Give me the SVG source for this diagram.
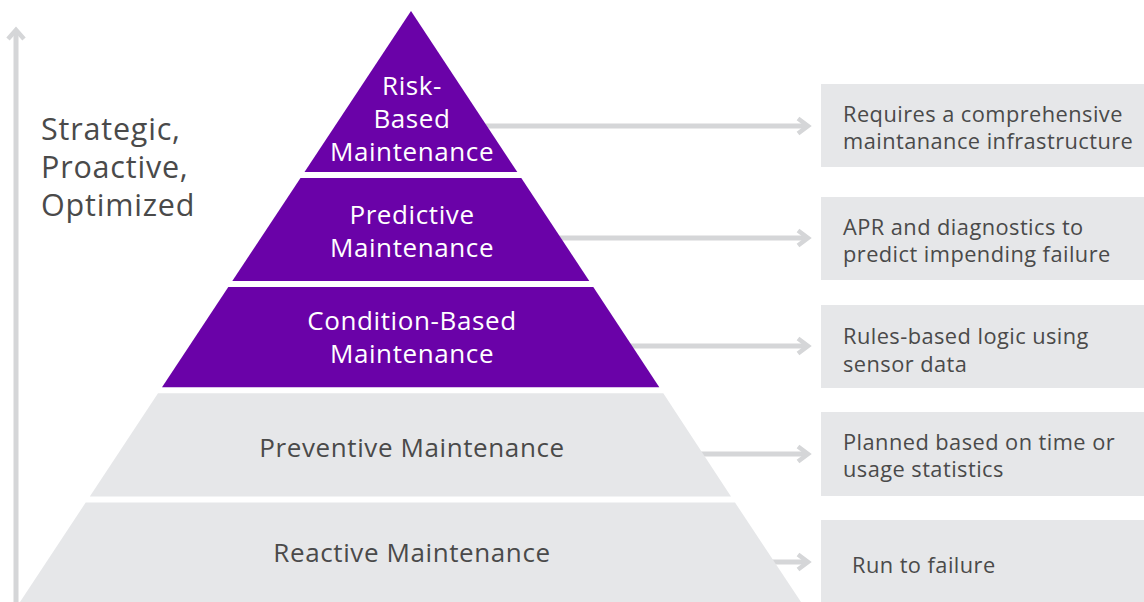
<svg xmlns="http://www.w3.org/2000/svg" width="1144" height="602" viewBox="0 0 1144 602">
  <style>
    .purple { fill: #6a02a8; }
    .grey { fill: #e6e7e9; }
    .box { fill: #e6e7e9; }
    .conn { stroke: #d5d6d8; stroke-width: 5; fill: none; }
    .head { stroke: #d5d6d8; stroke-width: 4.5; fill: none; stroke-linejoin: miter; stroke-linecap: butt; }
    .pt { font-family: "Open Sans", "Noto Sans", sans-serif; font-size: 26px; letter-spacing: 0.6px; text-anchor: middle; }
    .w { fill: #ffffff; }
    .d { fill: #4a4a4a; }
    .bt { font-family: "Open Sans", "Noto Sans", sans-serif; font-size: 21.8px; letter-spacing: 0.45px; fill: #4a4a4a; }
    .lt { font-family: "Open Sans", "Noto Sans", sans-serif; font-size: 30.5px; letter-spacing: 0.8px; fill: #4a4a4a; }
  </style>

  <g id="axis">
    <line class="conn" x1="16" y1="30" x2="16" y2="602"/>
    <polyline class="head" points="8,39 16,30 24,39"/>
    <text class="lt" x="41" y="140">Strategic,</text>
    <text class="lt" x="41" y="178">Proactive,</text>
    <text class="lt" x="41" y="216">Optimized</text>
  </g>

  <g id="connectors">
    <line class="conn" x1="420" y1="126" x2="808" y2="126"/>
    <polyline class="head" points="798,118.5 808,126 798,133.5"/>
    <line class="conn" x1="420" y1="238" x2="808" y2="238"/>
    <polyline class="head" points="798,230.5 808,238 798,245.5"/>
    <line class="conn" x1="420" y1="346" x2="808" y2="346"/>
    <polyline class="head" points="798,338.5 808,346 798,353.5"/>
    <line class="conn" x1="420" y1="454" x2="808" y2="454"/>
    <polyline class="head" points="798,446.5 808,454 798,461.5"/>
    <line class="conn" x1="420" y1="562" x2="808" y2="562"/>
    <polyline class="head" points="798,554.5 808,562 798,569.5"/>
  </g>

  <g id="tier-risk">
    <polygon class="purple" points="411,11 517.3,172 304.5,172"/>
    <text class="pt w" x="412" y="95">Risk-</text>
    <text class="pt w" x="412" y="128">Based</text>
    <text class="pt w" x="412" y="161">Maintenance</text>
  </g>
  <g id="tier-predictive">
    <polygon class="purple" points="300.5,178 521.3,178 589.3,281 232.3,281"/>
    <text class="pt w" x="412" y="224">Predictive</text>
    <text class="pt w" x="412" y="257">Maintenance</text>
  </g>
  <g id="tier-condition">
    <polygon class="purple" points="228.3,287 593.3,287 659.3,387.3 162,387.3"/>
    <text class="pt w" x="412" y="330">Condition-Based</text>
    <text class="pt w" x="412" y="363">Maintenance</text>
  </g>
  <g id="tier-preventive">
    <polygon class="grey" points="158,393.3 663.3,393.3 731,496.5 89.8,496.5"/>
    <text class="pt d" x="412" y="457">Preventive Maintenance</text>
  </g>
  <g id="tier-reactive">
    <polygon class="grey" points="85.7,502.5 735,502.5 801,602 20,602"/>
    <text class="pt d" x="412" y="562">Reactive Maintenance</text>
  </g>

  <g id="box-1">
    <rect class="box" x="821" y="84" width="323" height="83"/>
    <text class="bt" x="843" y="122">Requires a comprehensive</text>
    <text class="bt" x="843" y="149">maintanance infrastructure</text>
  </g>
  <g id="box-2">
    <rect class="box" x="821" y="197" width="323" height="83"/>
    <text class="bt" x="843" y="235">APR and diagnostics to</text>
    <text class="bt" x="843" y="262">predict impending failure</text>
  </g>
  <g id="box-3">
    <rect class="box" x="821" y="305" width="323" height="83"/>
    <text class="bt" x="843" y="344">Rules-based logic using</text>
    <text class="bt" x="843" y="372">sensor data</text>
  </g>
  <g id="box-4">
    <rect class="box" x="821" y="412" width="323" height="84"/>
    <text class="bt" x="843" y="450">Planned based on time or</text>
    <text class="bt" x="843" y="477">usage statistics</text>
  </g>
  <g id="box-5">
    <rect class="box" x="821" y="520" width="323" height="82"/>
    <text class="bt" x="852" y="573">Run to failure</text>
  </g>
</svg>
